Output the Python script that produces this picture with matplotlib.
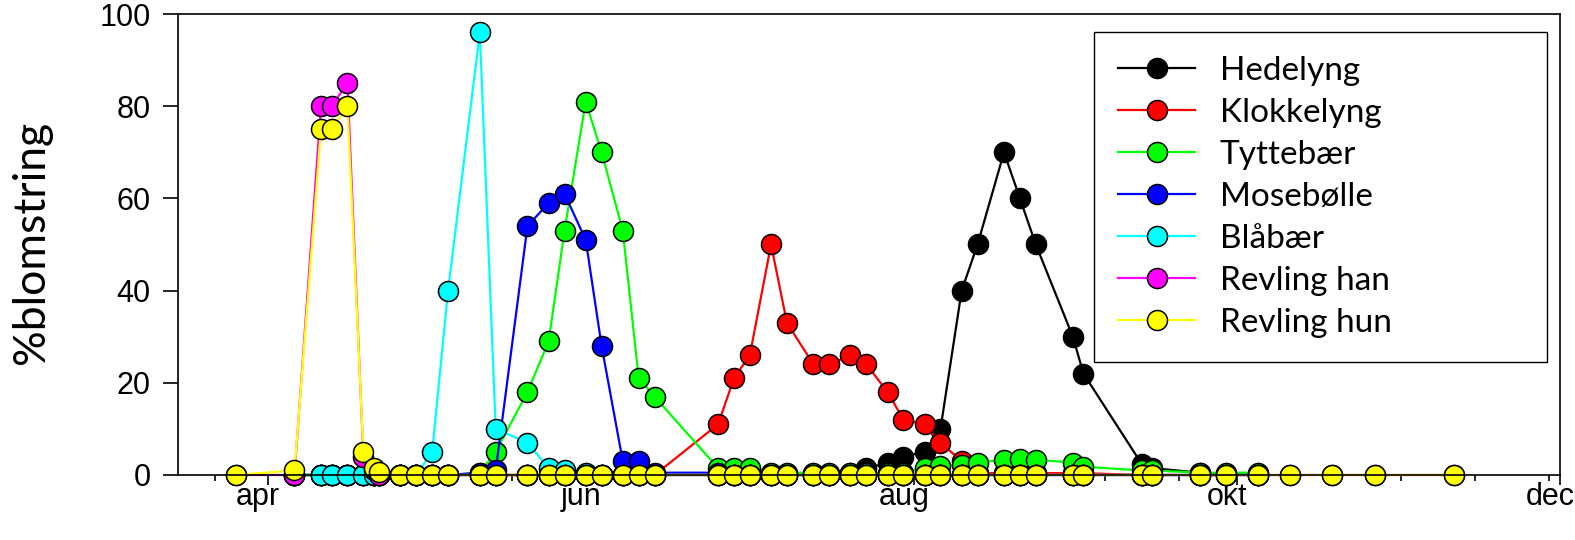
import numpy as np
import matplotlib
matplotlib.use("Agg")
import matplotlib.pyplot as plt
import matplotlib.transforms as mtransforms

nan = np.nan

# sampling dates as day of year
dates = ([85, 96, 101, 103, 106, 109, 111, 112]
         + [116, 119, 122, 125]
         + [131, 134, 140, 144, 147, 151, 154, 158, 161, 164]
         + [176, 179, 182, 186, 189, 194, 197, 201, 204, 208, 211, 215, 218]
         + [222, 225, 230, 233, 236, 243, 245]
         + [256, 258, 267, 272, 278]
         + [284, 292, 300, 315])

hedelyng = ([nan, 0, 0, 0, 0, 0, 0, 0]
            + [0, 0, 0, 0]
            + [0] * 10
            + [0, 0, 0, 0, 0, 0, 0, 0.5, 1.5, 2.6, 4, 5, 10]
            + [40, 50, 70, 60, 50, 30, 22]
            + [2.4, 1.5, 0.5, 0.3, 0.3]
            + [nan] * 4)

klokkelyng = ([nan, 0, 0, 0, 0, 0, 0, 0]
              + [0, 0, 0, 0]
              + [0] * 10
              + [11, 21, 26, 50, 33, 24, 24, 26, 24, 18, 12, 11, 7]
              + [3, 0.4, 0.4, 0.4, 0.4, 0.4, 0.4]
              + [0] * 5
              + [nan] * 4)

tyttebaer = ([nan, 0, 0, 0, 0, 0, 0, 0]
             + [0, 0, 0, 0]
             + [0.5, 5, 18, 29, 53, 81, 70, 53, 21, 17]
             + [1.5, 1.5, 1.5, 0.5, 0.5, 0.5, 0.5, 0.5, 0.5, 0.5, 0.5, 1.5, 2]
             + [2.2, 2.7, 3.3, 3.5, 3.3, 2.7, 1.8]
             + [1, 1, 0.5, 0.5, 0.5]
             + [nan] * 4)

mosebolle = ([nan, 0, 0, 0, 0, 0, 0, 0]
             + [0, 0, 0, 0]
             + [0.5, 1, 54, 59, 61, 51, 28, 3, 3, 0.5]
             + [0.5] + [0] * 12
             + [0] * 7
             + [0] * 5
             + [nan] * 4)

blabaer = ([nan, 0, 0, 0, 0, 0, 0, 0]
           + [0, 0, 5, 40]
           + [96, 10, 7, 1.5, 1, 0.5, 0, 0, 0, 0]
           + [0] * 13
           + [0] * 7
           + [0] * 5
           + [nan] * 4)

revling_han = ([0, 0, 80, 80, 85, 4, 1, 0]
               + [0] * 43)

revling_hun = ([0, 1, 75, 75, 80, 5, 1.5, 0.7]
               + [0] * 43)

names = ["Hedelyng", "Klokkelyng", "Tyttebær", "Mosebølle", "Blåbær",
         "Revling han", "Revling hun"]
series = [hedelyng, klokkelyng, tyttebaer, mosebolle, blabaer,
          revling_han, revling_hun]
colors = ["#000000", "#ff0000", "#00ff00", "#0000ff", "#00ffff",
          "#ff00ff", "#ffff00"]

month_pos = [91, 152, 213, 274, 335]
month_lab = ["apr", "jun", "aug", "okt", "dec"]
minor_pos = list(range(81, 335, 14))

plt.rcParams["font.family"] = ["Liberation Sans", "DejaVu Sans"]

fig = plt.figure(figsize=(15.75, 5.4), dpi=100)
ax = fig.add_axes([178 / 1575, 1 - 475 / 540, (1560 - 178) / 1575, (475 - 14) / 540])

for name, vals, col in zip(names, series, colors):
    ax.plot(dates, vals, "-o", color=col, lw=1.6, ms=14.4, mfc=col,
            mec="black", mew=1.1, label=name, clip_on=False)

ax.set_xlim(74, 335)
ax.set_ylim(0, 100)

for sp in ax.spines.values():
    sp.set_linewidth(1.2)

ax.set_yticks(range(0, 101, 20))
ax.tick_params(axis="y", direction="out", length=10.8, width=1.2, pad=9, labelsize=22)

ax.set_xticks(month_pos, labels=month_lab)
ax.set_xticks(minor_pos, minor=True)
ax.tick_params(axis="x", which="major", direction="out", length=7.2, width=1.2,
               pad=-2, labelsize=22)
ax.tick_params(axis="x", which="minor", direction="out", length=4.3, width=1.2)

shift = mtransforms.ScaledTranslation(-10 / 100, 0, fig.dpi_scale_trans)
for lab in ax.get_xticklabels():
    lab.set_transform(lab.get_transform() + shift)

ax.set_ylabel("%blomstring", fontfamily="Lato", fontsize=32)
ax.yaxis.set_label_coords(-0.091, 0.505)

leg = ax.legend(loc="upper left", bbox_to_anchor=(0.663, 0.254, 0.3276, 0.707),
                mode="expand", prop={"family": "Lato", "size": 24},
                frameon=True, fancybox=False, edgecolor="black", framealpha=1,
                handlelength=2.3, handletextpad=0.75, labelspacing=0.36,
                borderpad=0.72, borderaxespad=0)
leg.get_frame().set_linewidth(1.0)

fig.savefig("out.png", dpi=100)
